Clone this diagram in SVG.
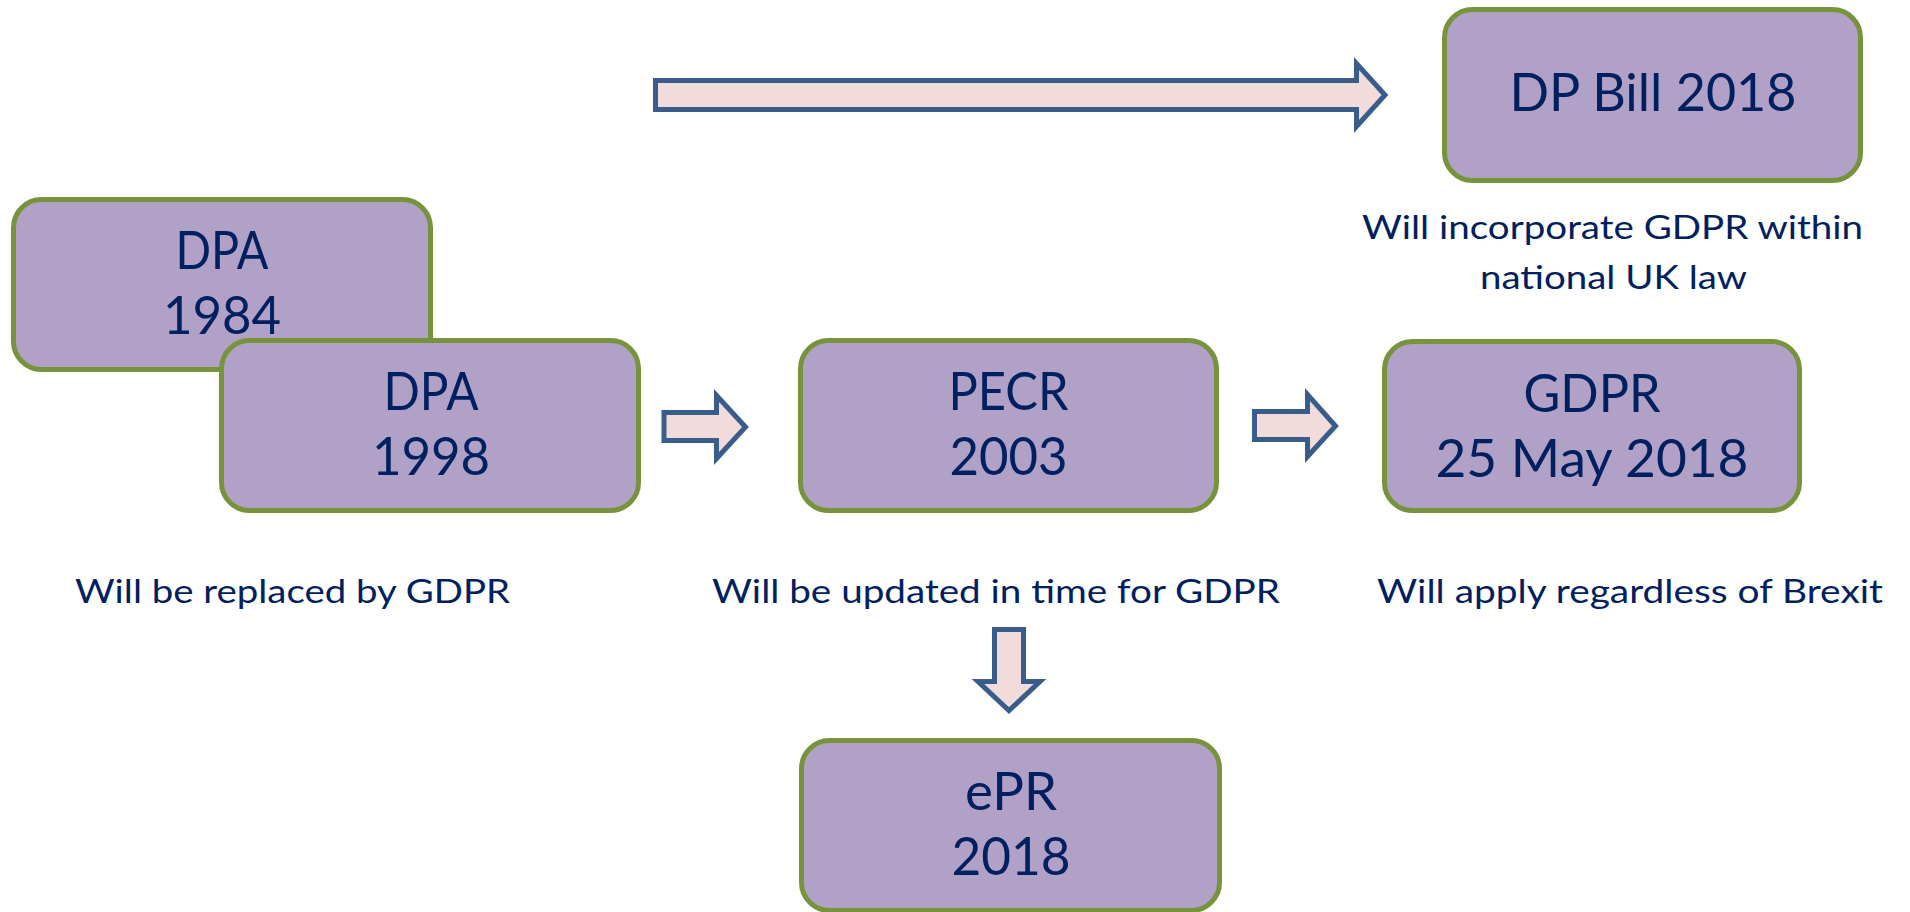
<svg xmlns="http://www.w3.org/2000/svg" width="1910" height="912" viewBox="0 0 1910 912">
<style>
.box{fill:#B2A1C7;stroke:#77933C;stroke-width:5}
.arr{fill:#F2DCDB;stroke:#385D8A;stroke-width:5;stroke-linejoin:miter}
.bt{font-family:Lato,"Liberation Sans",sans-serif;font-size:53px;fill:#002060;text-anchor:middle}
.lt{font-family:Lato,"Liberation Sans",sans-serif;font-size:33.5px;fill:#002060;text-anchor:middle}
</style>
<rect width="1910" height="912" fill="#FFFFFF"/>
<g id="connectors">
<path class="arr" d="M655.5,80.5 H1356.5 V63.5 L1385,95 L1356.5,126.5 V109.5 H655.5 Z"/>
<path class="arr" d="M664,412.5 H716.5 V395.5 L745.5,427 L716.5,458.5 V440.5 H664 Z"/>
<path class="arr" d="M1254.5,411.5 H1307.5 V394.5 L1335.5,426 L1307.5,456.5 V439.5 H1254.5 Z"/>
<path class="arr" d="M994.5,629.5 H1023.5 V681.5 H1040 L1009,710.5 L978,681.5 H994.5 Z"/>
</g>
<g id="dpa1984">
<rect class="box" x="13.5" y="199.5" width="417" height="170" rx="28"/>
<text class="bt" x="222" y="269" textLength="93" lengthAdjust="spacingAndGlyphs">DPA</text>
<text class="bt" x="222" y="334" textLength="118" lengthAdjust="spacingAndGlyphs">1984</text>
</g>
<g id="dpa1998">
<rect class="box" x="221.5" y="340.5" width="417" height="170" rx="28"/>
<text class="bt" x="431" y="410" textLength="95" lengthAdjust="spacingAndGlyphs">DPA</text>
<text class="bt" x="431" y="475" textLength="118" lengthAdjust="spacingAndGlyphs">1998</text>
</g>
<g id="pecr">
<rect class="box" x="800.5" y="340.5" width="416" height="170" rx="28"/>
<text class="bt" x="1008.5" y="410" textLength="120" lengthAdjust="spacingAndGlyphs">PECR</text>
<text class="bt" x="1008.5" y="475" textLength="118" lengthAdjust="spacingAndGlyphs">2003</text>
</g>
<g id="gdpr">
<rect class="box" x="1384.5" y="341.5" width="415" height="169" rx="28"/>
<text class="bt" x="1592" y="412" textLength="137" lengthAdjust="spacingAndGlyphs">GDPR</text>
<text class="bt" x="1592" y="477" textLength="313" lengthAdjust="spacingAndGlyphs">25 May 2018</text>
</g>
<g id="dpbill">
<rect class="box" x="1444.5" y="9.5" width="416" height="171" rx="28"/>
<text class="bt" x="1653" y="111" textLength="287" lengthAdjust="spacingAndGlyphs">DP Bill 2018</text>
</g>
<g id="epr">
<rect class="box" x="801.5" y="740.5" width="418" height="170" rx="28"/>
<text class="bt" x="1011" y="810" textLength="92" lengthAdjust="spacingAndGlyphs">ePR</text>
<text class="bt" x="1011" y="875" textLength="119" lengthAdjust="spacingAndGlyphs">2018</text>
</g>
<g id="labels">
<text class="lt" x="292.5" y="603" textLength="435" lengthAdjust="spacingAndGlyphs">Will be replaced by GDPR</text>
<text class="lt" x="996" y="603" textLength="568" lengthAdjust="spacingAndGlyphs">Will be updated in time for GDPR</text>
<text class="lt" x="1630" y="603" textLength="506" lengthAdjust="spacingAndGlyphs">Will apply regardless of Brexit</text>
<text class="lt" x="1612.5" y="239" textLength="501" lengthAdjust="spacingAndGlyphs">Will incorporate GDPR within</text>
<text class="lt" x="1613.5" y="289" textLength="267" lengthAdjust="spacingAndGlyphs">national UK law</text>
</g>
</svg>
